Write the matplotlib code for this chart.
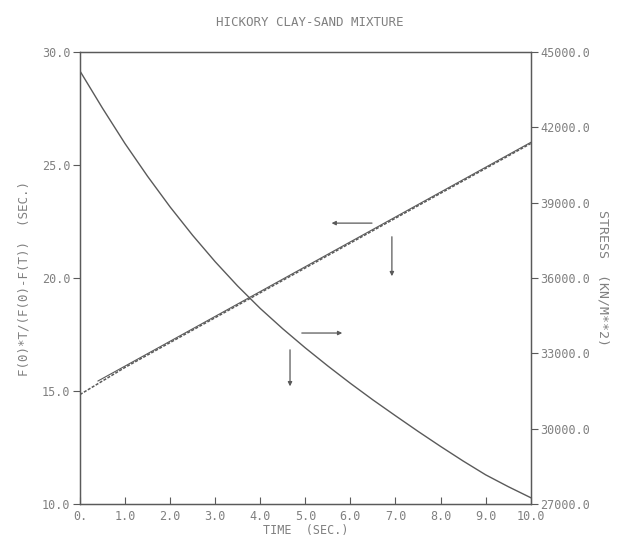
import matplotlib
matplotlib.use("Agg")
import matplotlib.pyplot as plt

# time axis (sec.)
time_stress = [0.0, 0.5, 1.0, 1.5, 2.0, 2.5, 3.0, 3.5, 4.0, 4.5, 5.0,
               5.5, 6.0, 6.5, 7.0, 7.5, 8.0, 8.5, 9.0, 9.5, 10.0]
# stress curve (KN/M**2)
stress = [44240, 42760, 41350, 40050, 38830, 37700, 36650, 35680, 34790, 33980, 33220,
          32500, 31810, 31150, 30520, 29900, 29300, 28720, 28170, 27700, 27260]

# F(0)*T/(F(0)-F(T)) measured points (dashed) and fitted line (solid)
time_meas = [0.0, 0.5, 1.0, 2.0, 3.0, 4.0, 5.0, 6.0, 7.0, 8.0, 9.0, 10.0]
ratio_meas = [14.85, 15.45, 16.05, 17.15, 18.25, 19.35, 20.45, 21.55, 22.65, 23.75, 24.85, 25.95]
time_fit = [0.4, 10.0]
ratio_fit = [15.45, 26.0]

# arrows: (x_start, y_start, x_end, y_end) in left-axis units
arrows = [(6.54, 22.43, 5.52, 22.43),
          (6.92, 21.95, 6.92, 19.96),
          (4.86, 17.57, 5.88, 17.57),
          (4.66, 16.95, 4.66, 15.09)]

INK = "#5a5a5a"
TXT = "#808080"
FONT = "DejaVu Sans Mono"
FS = 8.5

fig = plt.figure(figsize=(6.2, 5.41), dpi=100)
ax = fig.add_axes([0.129, 0.068, 0.727, 0.836])
ax2 = ax.twinx()

ax.plot(time_meas, ratio_meas, color=INK, lw=1.1, ls=(0, (2, 1)))
ax.plot(time_fit, ratio_fit, color=INK, lw=0.8)
ax2.plot(time_stress, stress, color=INK, lw=1.0)

for x0, y0, x1, y1 in arrows:
    ax.annotate("", xy=(x1, y1), xytext=(x0, y0),
                arrowprops=dict(arrowstyle="-|>", color=INK, lw=0.9,
                                mutation_scale=6))

ax.set_xlim(0, 10)
ax.set_ylim(10, 30)
ax2.set_ylim(27000, 45000)

ax.set_xticks(range(11))
ax.set_xticklabels(["0."] + ["%.1f" % v for v in range(1, 11)])
ax.set_yticks([10, 15, 20, 25, 30])
ax.set_yticklabels(["10.0", "15.0", "20.0", "25.0", "30.0"])
ax2.set_yticks(range(27000, 45001, 3000))
ax2.set_yticklabels(["%d.0" % v for v in range(27000, 45001, 3000)])

for a in (ax, ax2):
    for s in a.spines.values():
        s.set_color(INK)
        s.set_linewidth(0.9)
    a.tick_params(colors=INK, labelcolor=TXT, labelsize=FS, width=0.8)
    for lab in a.get_xticklabels() + a.get_yticklabels():
        lab.set_family(FONT)
ax.tick_params(axis="x", direction="in", length=5, pad=4)
ax.tick_params(axis="y", direction="out", length=5, pad=2)
ax2.tick_params(axis="y", direction="out", length=5, pad=2)

ax.set_xlabel("TIME  (SEC.)", color=TXT, fontsize=FS, family=FONT, labelpad=1)
ax.set_ylabel("F(0)*T/(F(0)-F(T))  (SEC.)", color=TXT, fontsize=9,
              family=FONT, labelpad=8)
ax2.set_ylabel("STRESS  (KN/M**2)", color=TXT, fontsize=9.5, family=FONT,
               rotation=-90, labelpad=14)
fig.text(0.5, 0.958, "HICKORY CLAY-SAND MIXTURE", ha="center", va="center",
         color=TXT, fontsize=9, family=FONT)

fig.savefig("out.png", dpi=100)
